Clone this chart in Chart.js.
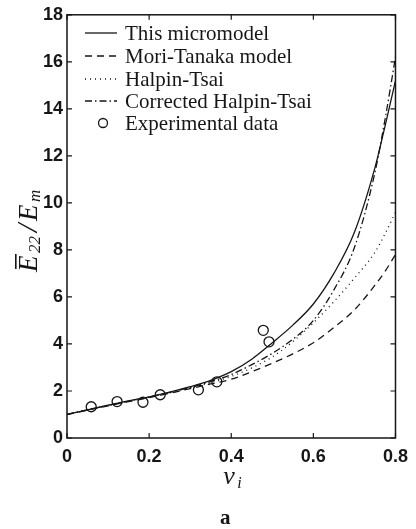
<!DOCTYPE html>
<html>
<head>
<meta charset="utf-8">
<script src="https://cdn.jsdelivr.net/npm/chart.js@4"></script>
<style>
    html, body { margin: 0; padding: 0; background: #fff; }
    #wrap { width: 416px; height: 529px; }
</style>
</head>
<body>
<div id="wrap"><canvas id="chart" width="416" height="529"></canvas></div>
<script>
(function () {
    "use strict";

    // Volume fraction samples used for the model curves
    const vi = [0, 0.05, 0.1, 0.15, 0.2, 0.25, 0.3, 0.35, 0.4, 0.45, 0.5, 0.55, 0.6, 0.65, 0.7, 0.75, 0.775, 0.8];

    // Model curves
    const microModel = [1.0, 1.2, 1.4, 1.58, 1.75, 1.95, 2.18, 2.45, 2.82, 3.35, 4.05, 4.8, 5.7, 7.0, 8.75, 11.5, 13.3, 15.2];
    const moriTanaka = [1.0, 1.18, 1.37, 1.55, 1.72, 1.9, 2.1, 2.3, 2.5, 2.82, 3.18, 3.58, 4.05, 4.7, 5.45, 6.5, 7.1, 7.8];
    const halpinTsai = [1.0, 1.19, 1.38, 1.56, 1.73, 1.92, 2.12, 2.35, 2.62, 2.98, 3.45, 4.1, 4.9, 5.8, 6.8, 7.9, 8.7, 9.6];
    const correctedHT = [1.0, 1.2, 1.39, 1.57, 1.74, 1.94, 2.15, 2.4, 2.7, 3.12, 3.6, 4.2, 5.0, 6.3, 8.1, 11.3, 13.6, 16.2];

    // Experimental points
    const expX = [0.059, 0.122, 0.185, 0.227, 0.32, 0.365, 0.478, 0.492];
    const expY = [1.33, 1.55, 1.52, 1.84, 2.05, 2.39, 4.58, 4.09];

    const xTicks = [0, 0.2, 0.4, 0.6, 0.8];
    const yTicks = [0, 2, 4, 6, 8, 10, 12, 14, 16, 18];

    const ink = "#161616";

    const toPoints = (xs, ys) => xs.map((x, i) => ({ x: x, y: ys[i] }));

    const lineSet = (label, ys, dash) => ({
        type: "line",
        label: label,
        data: toPoints(vi, ys),
        borderColor: ink,
        borderWidth: 1.3,
        borderDash: dash,
        pointRadius: 0,
        fill: false,
        cubicInterpolationMode: "monotone",
    });

    const datasets = [
        lineSet("This micromodel", microModel, []),
        lineSet("Mori-Tanaka model", moriTanaka, [7, 5]),
        lineSet("Halpin-Tsai", halpinTsai, [1, 4]),
        lineSet("Corrected Halpin-Tsai", correctedHT, [7, 3, 1.5, 3]),
        {
            type: "scatter",
            label: "Experimental data",
            data: toPoints(expX, expY),
            borderColor: ink,
            backgroundColor: "rgba(255,255,255,0)",
            borderWidth: 1.3,
            pointRadius: 5,
            pointStyle: "circle",
        },
    ];

    // Frame with inward ticks on all four sides
    const framePlugin = {
        id: "frame",
        afterDatasetsDraw(chart) {
            const { ctx, chartArea: a, scales } = chart;
            ctx.save();
            ctx.strokeStyle = ink;
            ctx.lineWidth = 1.5;
            ctx.strokeRect(a.left, a.top, a.right - a.left, a.bottom - a.top);
            ctx.lineWidth = 1.2;
            ctx.beginPath();
            xTicks.forEach((t) => {
                const px = scales.x.getPixelForValue(t);
                ctx.moveTo(px, a.bottom); ctx.lineTo(px, a.bottom - 5);
                ctx.moveTo(px, a.top); ctx.lineTo(px, a.top + 5);
            });
            yTicks.forEach((t) => {
                const py = scales.y.getPixelForValue(t);
                ctx.moveTo(a.left, py); ctx.lineTo(a.left + 5, py);
                ctx.moveTo(a.right, py); ctx.lineTo(a.right - 5, py);
            });
            ctx.stroke();
            ctx.restore();
        },
    };

    // Legend inside the plot, upper left
    const legendPlugin = {
        id: "innerLegend",
        afterDatasetsDraw(chart) {
            const ctx = chart.ctx;
            const x0 = 85, x1 = 117, tx = 125;
            const rows = [33, 56, 79, 101, 123];
            ctx.save();
            ctx.font = "21px 'Liberation Serif', serif";
            ctx.fillStyle = ink;
            ctx.textBaseline = "middle";
            chart.data.datasets.forEach((ds, i) => {
                const y = rows[i];
                ctx.strokeStyle = ink;
                ctx.lineWidth = 1.3;
                if (ds.type === "scatter") {
                    ctx.setLineDash([]);
                    ctx.beginPath();
                    ctx.arc(103, y, 4.5, 0, Math.PI * 2);
                    ctx.stroke();
                } else {
                    ctx.setLineDash(ds.borderDash);
                    ctx.beginPath();
                    ctx.moveTo(x0, y);
                    ctx.lineTo(x1, y);
                    ctx.stroke();
                }
                ctx.setLineDash([]);
                ctx.fillText(ds.label, tx, y + 1);
            });
            ctx.restore();
        },
    };

    // Axis titles and panel letter
    const titlesPlugin = {
        id: "titles",
        afterDraw(chart) {
            const ctx = chart.ctx;
            const a = chart.chartArea;
            ctx.save();
            ctx.fillStyle = ink;
            ctx.textBaseline = "alphabetic";

            // y title: E22 / Em with overbar, rotated
            ctx.translate(37, 272);
            ctx.rotate(-Math.PI / 2);
            const big = "italic 27px 'Liberation Serif', serif";
            const small = "italic 17px 'Liberation Serif', serif";
            ctx.font = big;
            ctx.fillText("E", 0, 0);
            ctx.fillRect(3, -22, 15, 1.6);
            ctx.font = small;
            ctx.fillText("22", 19, 3);
            ctx.font = "italic 30px 'Liberation Serif', serif";
            ctx.fillText("/", 40, 0);
            ctx.font = big;
            ctx.fillText("E", 51, 0);
            ctx.font = small;
            ctx.fillText("m", 70, 3);
            ctx.setTransform(1, 0, 0, 1, 0, 0);

            // x title: nu_i
            const cx = (a.left + a.right) / 2;
            ctx.font = "italic 26px 'Liberation Serif', serif";
            ctx.fillText("\u03BD", cx - 8, 484);
            ctx.font = "italic 16px 'Liberation Serif', serif";
            ctx.fillText("i", cx + 6, 488);

            // panel letter
            ctx.font = "bold 21px 'Liberation Serif', serif";
            ctx.textAlign = "center";
            ctx.fillText("a", cx - 6, 524);
            ctx.restore();
        },
    };

    new Chart(document.getElementById("chart"), {
        type: "line",
        data: { datasets: datasets },
        options: {
            responsive: false,
            animation: false,
            events: [],
            layout: { padding: { top: 12, right: 17, left: 0, bottom: 0 } },
            plugins: {
                legend: { display: false },
                tooltip: { enabled: false },
            },
            scales: {
                x: {
                    type: "linear",
                    min: 0,
                    max: 0.8,
                    afterFit(scale) { scale.height = 91; },
                    afterBuildTicks(scale) { scale.ticks = xTicks.map((v) => ({ value: v })); },
                    ticks: {
                        color: ink,
                        padding: 8,
                        maxRotation: 0,
                        font: { family: "'Liberation Sans', Arial, sans-serif", size: 18, weight: "bold" },
                        callback: (v) => String(Number(v.toFixed(1))),
                    },
                    grid: { display: false, drawTicks: false },
                    border: { display: false },
                },
                y: {
                    type: "linear",
                    min: 0,
                    max: 18,
                    afterFit(scale) { scale.width = 67; },
                    afterBuildTicks(scale) { scale.ticks = yTicks.map((v) => ({ value: v })); },
                    ticks: {
                        color: ink,
                        padding: 4,
                        font: { family: "'Liberation Sans', Arial, sans-serif", size: 18, weight: "bold" },
                    },
                    grid: { display: false, drawTicks: false },
                    border: { display: false },
                },
            },
        },
        plugins: [framePlugin, legendPlugin, titlesPlugin],
    });
})();
</script>
</body>
</html>
